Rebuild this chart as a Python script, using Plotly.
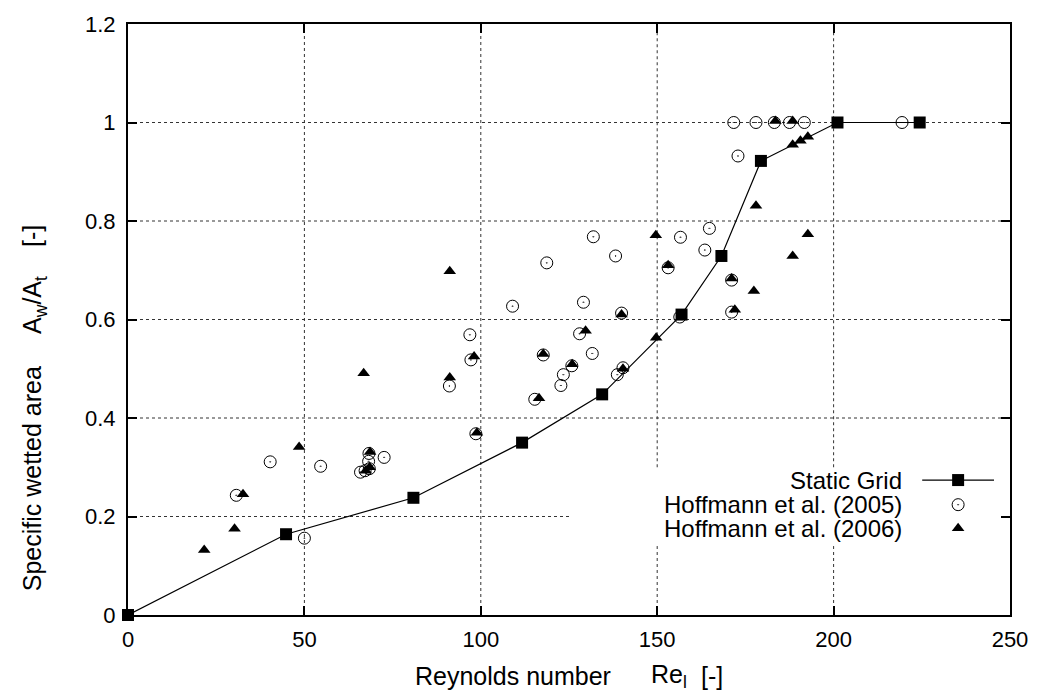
import plotly.graph_objects as go

# ---------------- data ----------------
grid_re = [0, 44.8, 80.9, 111.7, 134.4, 156.9, 168.2, 179.4, 201.1, 224.4]
grid_a = [0.0, 0.164, 0.238, 0.350, 0.448, 0.610, 0.729, 0.922, 1.0, 1.0]

h2005_re = [30.7, 40.3, 50.0, 54.6, 65.9, 67.2, 68.4, 68.2, 68.3, 72.6,
            91.1, 96.9, 97.2, 98.6, 109.0, 115.3, 117.7, 118.7, 122.7, 123.4,
            125.8, 128.0, 129.1, 131.6, 131.9, 138.2, 138.7, 139.9, 140.3, 153.1,
            156.4, 156.6, 163.5, 164.8, 171.1, 171.1, 171.7, 172.9, 178.0, 183.2,
            187.5, 191.7, 219.4]
h2005_a = [0.243, 0.311, 0.156, 0.302, 0.290, 0.293, 0.297, 0.312, 0.328, 0.320,
           0.465, 0.569, 0.518, 0.368, 0.627, 0.438, 0.528, 0.715, 0.466, 0.488,
           0.506, 0.571, 0.635, 0.531, 0.768, 0.729, 0.488, 0.613, 0.502, 0.705,
           0.605, 0.767, 0.741, 0.785, 0.680, 0.615, 1.0, 0.932, 1.0, 1.0,
           1.0, 1.0, 1.0]

h2006_re = [21.6, 30.2, 32.6, 48.5, 66.8, 67.4, 68.5, 68.6, 91.2, 91.2,
            98.1, 98.9, 116.5, 117.7, 125.9, 129.7, 140.3, 139.9, 149.6, 149.7,
            153.1, 171.1, 172.0, 177.4, 178.0, 183.5, 188.4, 188.4, 190.6, 192.7,
            188.4, 192.7]
h2006_a = [0.132, 0.175, 0.245, 0.341, 0.491, 0.293, 0.300, 0.331, 0.482, 0.698,
           0.525, 0.370, 0.440, 0.530, 0.509, 0.577, 0.500, 0.610, 0.771, 0.563,
           0.710, 0.683, 0.620, 0.658, 0.831, 1.003, 1.003, 0.955, 0.963, 0.971,
           0.729, 0.773]

x_ticks = [0, 50, 100, 150, 200, 250]
y_ticks = [0, 0.2, 0.4, 0.6, 0.8, 1.0, 1.2]
y_tick_text = ["0", "0.2", "0.4", "0.6", "0.8", "1", "1.2"]

legend_names = ["Static Grid", "Hoffmann et al. (2005)", "Hoffmann et al. (2006)"]

# ---------------- styling/layout constants ----------------
FONT = "Liberation Sans"
W, H = 1040, 694
ML, MR, MT, MB = 128, 28, 15, 79
PW = W - ML - MR
PH = H - MT - MB
XR = [0, 250]
YR = [0, 1.2]


def px_x(p):
    return (p - ML) / PW


def px_y(p):
    return (H - MB - p) / PH


def dx(p):  # pixel -> data x
    return XR[0] + px_x(p) * (XR[1] - XR[0])


def dy(p):  # pixel -> data y
    return YR[0] + px_y(p) * (YR[1] - YR[0])


fig = go.Figure()

fig.add_trace(go.Scatter(
    x=h2005_re, y=h2005_a, mode="markers", name=legend_names[1],
    marker=dict(symbol="circle-open-dot", size=12, color="black",
                line=dict(width=1, color="black")),
    cliponaxis=False, showlegend=False))

fig.add_trace(go.Scatter(
    x=h2006_re, y=h2006_a, mode="markers", name=legend_names[2],
    marker=dict(symbol="triangle-up", size=11, color="black",
                line=dict(width=0)),
    cliponaxis=False, showlegend=False))

fig.add_trace(go.Scatter(
    x=grid_re, y=grid_a, mode="lines+markers", name=legend_names[0],
    line=dict(color="black", width=1.2),
    marker=dict(symbol="square", size=12, color="black"),
    cliponaxis=False, showlegend=False))

# ---- custom gnuplot-style key (text right-aligned, sample to its right) ----
key_rows_px = [478, 503, 527]
key_text_right_px = 906
key_sample_px = 960
key_line_px = (924, 996)
key_box_px = dict(x0=570, y0=465, y1=545)   # area kept free of grid lines

fig.add_trace(go.Scatter(
    x=[px_x(key_line_px[0]), px_x(key_sample_px), px_x(key_line_px[1])],
    y=[px_y(key_rows_px[0])] * 3, mode="lines",
    line=dict(color="black", width=1.2), xaxis="x2", yaxis="y2",
    showlegend=False, hoverinfo="skip", cliponaxis=False))
fig.add_trace(go.Scatter(
    x=[px_x(key_sample_px)], y=[px_y(key_rows_px[0])], mode="markers",
    marker=dict(symbol="square", size=12, color="black"),
    xaxis="x2", yaxis="y2", showlegend=False, hoverinfo="skip", cliponaxis=False))
fig.add_trace(go.Scatter(
    x=[px_x(key_sample_px)], y=[px_y(key_rows_px[1])], mode="markers",
    marker=dict(symbol="circle-open-dot", size=12, color="black",
                line=dict(width=1, color="black")),
    xaxis="x2", yaxis="y2", showlegend=False, hoverinfo="skip", cliponaxis=False))
fig.add_trace(go.Scatter(
    x=[px_x(key_sample_px)], y=[px_y(key_rows_px[2])], mode="markers",
    marker=dict(symbol="triangle-up", size=11, color="black"),
    xaxis="x2", yaxis="y2", showlegend=False, hoverinfo="skip", cliponaxis=False))

TXT = dict(family=FONT, size=25, color="black")
annotations = []
for name, row in zip(legend_names, key_rows_px):
    annotations.append(dict(
        text=name, x=px_x(key_text_right_px), y=px_y(row), xref="paper", yref="paper",
        xanchor="right", yanchor="middle", showarrow=False,
        font=dict(family=FONT, size=24, color="black")))

# axis titles
annotations.append(dict(
    text="Reynolds number", x=px_x(514), y=px_y(677), xref="paper", yref="paper",
    xanchor="center", yanchor="middle", showarrow=False, font=TXT))
annotations.append(dict(
    text="Re<sub>l</sub>", x=px_x(670), y=px_y(677), xref="paper", yref="paper",
    xanchor="center", yanchor="middle", showarrow=False, font=TXT))
annotations.append(dict(
    text="[-]", x=px_x(713), y=px_y(677), xref="paper", yref="paper",
    xanchor="center", yanchor="middle", showarrow=False, font=TXT))
annotations.append(dict(
    text="Specific wetted area", x=px_x(32), y=px_y(477), xref="paper", yref="paper",
    xanchor="center", yanchor="middle", textangle=-90, showarrow=False, font=TXT))
annotations.append(dict(
    text="A<sub>w</sub>/A<sub>t</sub>", x=px_x(34), y=px_y(300),
    xref="paper", yref="paper",
    xanchor="center", yanchor="middle", textangle=-90, showarrow=False, font=TXT))
annotations.append(dict(
    text="[-]", x=px_x(32), y=px_y(230),
    xref="paper", yref="paper",
    xanchor="center", yanchor="middle", textangle=-90, showarrow=False, font=TXT))

# dotted grid drawn as shapes so that the key area stays clear (as in gnuplot)
GRID = dict(color="#333333", width=1, dash="dot")
shapes = []
kx0 = dx(key_box_px["x0"])
ky_top = dy(key_box_px["y0"])
ky_bot = dy(key_box_px["y1"])
for xv in x_ticks[1:-1]:
    if xv >= kx0:
        shapes.append(dict(type="line", xref="x", yref="y", x0=xv, x1=xv,
                           y0=ky_top, y1=YR[1], line=GRID, layer="below"))
        shapes.append(dict(type="line", xref="x", yref="y", x0=xv, x1=xv,
                           y0=YR[0], y1=ky_bot, line=GRID, layer="below"))
    else:
        shapes.append(dict(type="line", xref="x", yref="y", x0=xv, x1=xv,
                           y0=YR[0], y1=YR[1], line=GRID, layer="below"))
for yv in y_ticks[1:-1]:
    if ky_bot <= yv <= ky_top:
        shapes.append(dict(type="line", xref="x", yref="y", x0=XR[0], x1=kx0,
                           y0=yv, y1=yv, line=GRID, layer="below"))
    else:
        shapes.append(dict(type="line", xref="x", yref="y", x0=XR[0], x1=XR[1],
                           y0=yv, y1=yv, line=GRID, layer="below"))

axis_common = dict(
    showline=True, linecolor="black", linewidth=2, mirror="ticks",
    ticks="inside", ticklen=9, tickwidth=1.5, tickcolor="black",
    showgrid=False, zeroline=False,
    tickfont=dict(family=FONT, size=22, color="black"))

fig.update_layout(
    width=W, height=H,
    margin=dict(l=ML, r=MR, t=MT, b=MB),
    paper_bgcolor="white", plot_bgcolor="white",
    font=dict(family=FONT, size=22, color="black"),
    xaxis=dict(range=XR, tickvals=x_ticks, ticktext=[str(v) for v in x_ticks],
               ticklabelstandoff=4, **axis_common),
    yaxis=dict(range=YR, tickvals=y_ticks, ticktext=y_tick_text,
               ticklabelstandoff=6, **axis_common),
    xaxis2=dict(overlaying="x", range=[0, 1], visible=False, fixedrange=True),
    yaxis2=dict(overlaying="y", range=[0, 1], visible=False, fixedrange=True),
    annotations=annotations, shapes=shapes,
    showlegend=False)

fig.write_html("out.html")
